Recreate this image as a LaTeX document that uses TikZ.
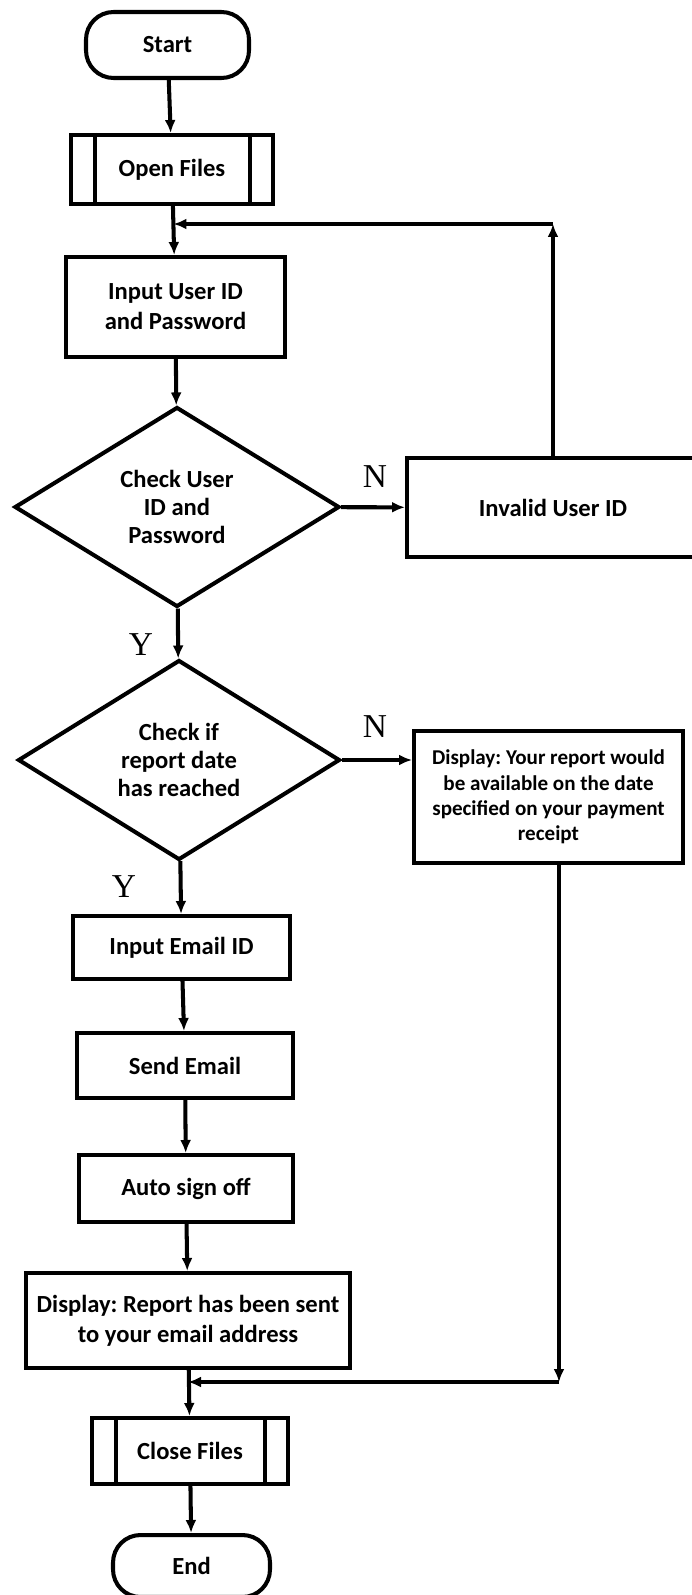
\documentclass[tikz,border=0pt]{standalone}
\usepackage{fontspec}
\setmainfont{Carlito}
\newfontfamily\yesnofont{Liberation Serif}
\usetikzlibrary{arrows.meta, positioning, shapes.geometric}
\frenchspacing
\tikzset{
  flowbox/.style={draw, line width=2.3pt, align=center, inner sep=2pt,
    font=\bfseries\fontsize{14}{17}\selectfont},
  procbox/.style={flowbox, rectangle},
  termbox/.style={flowbox, rectangle, rounded corners=0.55cm},
  decbox/.style={flowbox, diamond, aspect=1.6, inner sep=0pt,
    font=\bfseries\fontsize{14}{16}\selectfont},
  yn/.style={font=\yesnofont\fontsize{19}{19}\selectfont},
  arr/.style={line width=2.3pt, -{Latex[length=0.26cm, width=0.22cm]}},
}

\begin{document}
\begin{tikzpicture}[x=0.02cm, y=-0.02cm]
    \clip (0,0) rectangle (692,1595);
    % main column
    \node[termbox, minimum width=3.26cm, minimum height=1.32cm] (start) at (167.5,45) {Start};
    \node[procbox, minimum width=4.04cm, minimum height=1.38cm] (openf) at (172,169.5) {Open Files};
    \node[procbox, minimum width=4.38cm, minimum height=2cm] (inuser) at (175.5,307) {Input User ID\\and Password};
    \node[decbox, minimum width=6.5cm, minimum height=4cm] (chk1) at (177,507) {Check User\\ID and\\Password};
    \node[decbox, minimum width=6.44cm, minimum height=4cm] (chk2) at (179,760) {Check if\\report date\\has reached};
    \node[procbox, minimum width=4.34cm, minimum height=1.26cm] (inmail) at (181.5,947.5) {Input Email ID};
    \node[procbox, minimum width=4.32cm, minimum height=1.3cm] (send) at (185,1065.5) {Send Email};
    \node[procbox, minimum width=4.28cm, minimum height=1.34cm] (autooff) at (186,1188.5) {Auto sign off};
    \node[procbox, minimum width=6.48cm, minimum height=1.9cm] (dispsent) at (188,1320.5) {Display: Report has been sent\\to your email address};
    \node[procbox, minimum width=3.92cm, minimum height=1.32cm] (closef) at (190,1451) {Close Files};
    \node[termbox, minimum width=3.14cm, minimum height=1.24cm] (endn) at (191.5,1566) {End};
    % right side
    \node[procbox, minimum width=5.84cm, minimum height=1.98cm] (invalid) at (553,507.5) {Invalid User ID};
    \node[procbox, minimum width=5.38cm, minimum height=2.64cm,
      font=\bfseries\fontsize{12}{14.5}\selectfont] (dispwait) at (548.5,797)
      {Display: Your report would\\be available on the date\\specified on your payment\\receipt};
    % inner bars of the file boxes
    \foreach \n in {openf, closef}
      {\draw[line width=2.3pt] ([xshift=0.52cm]\n.north west) -- ([xshift=0.52cm]\n.south west);
       \draw[line width=2.3pt] ([xshift=-0.5cm]\n.north east) -- ([xshift=-0.5cm]\n.south east);}
    % loop points
    \coordinate (j1) at (173.5,224);
    \coordinate (c1) at (553,224);
    \coordinate (j2) at (188,1382);
    \coordinate (c2) at (559,1382);
    % labels
    \node[yn] (n1) at (375,477) {N};
    \node[yn] (y1) at (141,645) {Y};
    \node[yn] (n2) at (375,727) {N};
    \node[yn] (y2) at (124,887) {Y};
    % connectors
    \draw[arr] (start) -- (openf);
    \draw[arr] (openf) -- (inuser);
    \draw[arr] (inuser) -- (chk1);
    \draw[arr] (chk1) -- (invalid);
    \draw[arr] (invalid.north) -- (c1);
    \draw[arr] (c1) -- (j1);
    \draw[arr] (chk1) -- (chk2);
    \draw[arr] (chk2.east) -- (chk2.east -| dispwait.west);
    \draw[arr] (chk2) -- (inmail);
    \draw[arr] (inmail) -- (send);
    \draw[arr] (send) -- (autooff);
    \draw[arr] (autooff) -- (dispsent);
    \draw[arr] (dispsent) -- (closef);
    \draw[arr] (closef) -- (endn);
    \draw[arr] (dispwait.south -| c2) -- (c2);
    \draw[arr] (c2) -- (j2);
\end{tikzpicture}
\end{document}
